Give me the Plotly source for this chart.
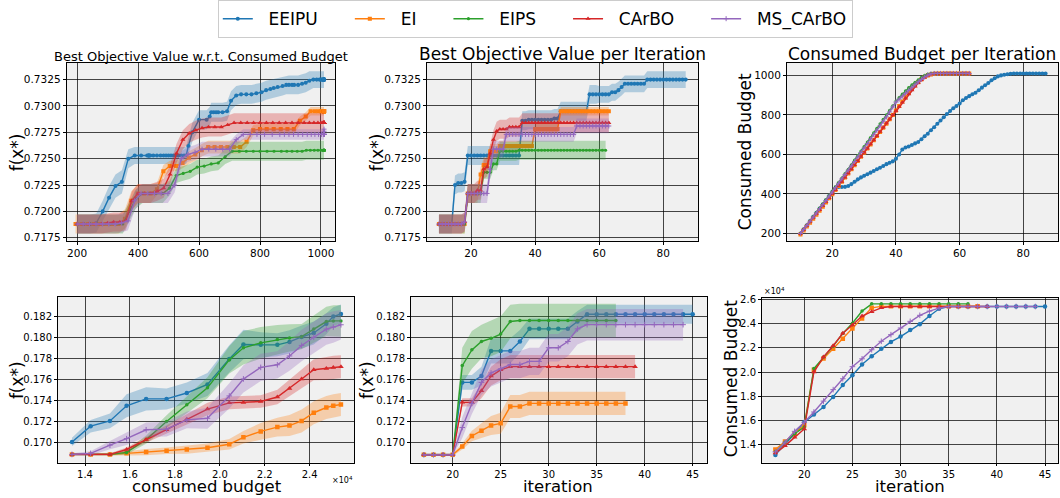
import plotly.graph_objects as go

# ---------------- DATA ----------------
methods = ["EEIPU", "EI", "EIPS", "CArBO", "MS_CArBO"]

# ---- top row: iterations ----
it_top_eeipu = list(range(10, 88))
it_top_ei = list(range(10, 64))
it_top_eips = list(range(10, 63))
it_top_carbo = list(range(10, 64))
it_top_ms = list(range(10, 64))

# consumed budget per iteration (top-right panel; also x of top-left panel)
bud_eeipu = [200, 221, 242, 263, 284, 305, 326, 347, 368, 389,
             410, 430, 435, 435, 436, 440, 450, 462, 474, 484,
             492, 500, 508, 516, 525, 533, 542, 551, 558, 565,
             578, 600, 625, 635, 640, 648, 656, 663, 677, 692,
             705, 722, 738, 755, 772, 788, 805, 820, 834, 845,
             858, 874, 886, 895, 905, 912, 925, 938, 950, 962,
             975, 986, 995, 1000, 1003, 1006, 1008, 1010, 1010, 1010,
             1010, 1010, 1010, 1010, 1010, 1010, 1010, 1010]
bud_ei = [195, 215, 235, 255, 275, 295, 315, 336, 357, 378,
          399, 420, 441, 462, 483, 504, 525, 546, 567, 588,
          609, 630, 651, 672, 693, 714, 735, 756, 778, 800,
          822, 845, 868, 890, 911, 931, 950, 966, 980, 992,
          1000, 1005, 1008, 1010, 1010, 1010, 1010, 1010, 1010, 1010,
          1010, 1010, 1010, 1010]
bud_eips = [200, 221, 243, 264, 286, 307, 329, 350, 372, 393,
            415, 437, 459, 481, 503, 525, 548, 571, 594, 617,
            640, 663, 686, 709, 732, 755, 778, 800, 823, 846,
            870, 888, 905, 922, 938, 952, 965, 978, 990, 1000,
            1007, 1010, 1010, 1010, 1010, 1010, 1010, 1010, 1010, 1010,
            1010, 1010, 1010]
bud_carbo = [200, 220, 240, 260, 280, 300, 320, 340, 360, 380,
             400, 421, 442, 463, 484, 505, 526, 547, 568, 589,
             610, 631, 652, 673, 694, 715, 737, 758, 779, 800,
             821, 842, 863, 884, 905, 925, 945, 962, 977, 990,
             1000, 1006, 1010, 1010, 1010, 1010, 1010, 1010, 1010, 1010,
             1010, 1010, 1010, 1010]
bud_ms = [200, 220, 241, 262, 283, 304, 325, 346, 367, 389,
          410, 432, 454, 476, 498, 520, 542, 564, 587, 610,
          632, 655, 678, 700, 722, 745, 768, 790, 815, 840,
          865, 880, 895, 910, 925, 940, 955, 968, 980, 992,
          1002, 1008, 1010, 1010, 1010, 1010, 1010, 1010, 1010, 1010,
          1010, 1010, 1010, 1010]

# best objective w.r.t. consumed budget (top-left) mean / std
fb_eeipu = [0.7188, 0.7188, 0.7188, 0.7189, 0.7200, 0.7213, 0.7224, 0.7228, 0.7250, 0.7253,
            0.7253, 0.7253, 0.7253, 0.7253, 0.7253, 0.7253, 0.7253, 0.7253, 0.7253, 0.7253,
            0.7253, 0.7253, 0.7253, 0.7253, 0.7253, 0.7253, 0.7253, 0.7253, 0.7253, 0.7262,
            0.7275, 0.7287, 0.7287, 0.7290, 0.7294, 0.7294, 0.7294, 0.7294, 0.7294, 0.7295,
            0.7305, 0.7310, 0.7311, 0.7311, 0.7311, 0.7312, 0.7313, 0.7315, 0.7316, 0.7317,
            0.7318, 0.7319, 0.7320, 0.7320, 0.7320, 0.7320, 0.7320, 0.7321, 0.7322, 0.7324,
            0.7325, 0.7325, 0.7325, 0.7325, 0.7325, 0.7325, 0.7325, 0.7325, 0.7325, 0.7325,
            0.7325, 0.7325, 0.7325, 0.7325, 0.7325, 0.7325, 0.7325, 0.7325]
sb_eeipu = [0.0009, 0.0009, 0.0009, 0.0009, 0.0010, 0.0011, 0.0011, 0.0011, 0.0009, 0.0008,
            0.0008, 0.0008, 0.0008, 0.0008, 0.0008, 0.0008, 0.0008, 0.0008, 0.0008, 0.0008,
            0.0008, 0.0008, 0.0008, 0.0008, 0.0008, 0.0008, 0.0008, 0.0008, 0.0008, 0.0008,
            0.0009, 0.0009, 0.0009, 0.0009, 0.0009, 0.0009, 0.0009, 0.0009, 0.0009, 0.0009,
            0.0009, 0.0009, 0.0009, 0.0009, 0.0009, 0.0009, 0.0009, 0.0009, 0.0009, 0.0009,
            0.0009, 0.0009, 0.0009, 0.0009, 0.0009, 0.0009, 0.0009, 0.0009, 0.0009, 0.0009,
            0.0008, 0.0008, 0.0008, 0.0008, 0.0008, 0.0008, 0.0008, 0.0008, 0.0008, 0.0008,
            0.0008, 0.0008, 0.0008, 0.0008, 0.0008, 0.0008, 0.0008, 0.0008]
fb_ei = [0.7188, 0.7188, 0.7188, 0.7188, 0.7188, 0.7188, 0.7188, 0.7188, 0.7193, 0.7210,
         0.7217, 0.7217, 0.7217, 0.7221, 0.7238, 0.7243, 0.7243, 0.7246, 0.7251, 0.7254,
         0.7258, 0.7261, 0.7261, 0.7261, 0.7261, 0.7261, 0.7261, 0.7266, 0.7277, 0.7278,
         0.7278, 0.7278, 0.7278, 0.7278, 0.7278, 0.7286, 0.7290, 0.7295, 0.7295, 0.7295,
         0.7295, 0.7295, 0.7295, 0.7295, 0.7295, 0.7295, 0.7295, 0.7295, 0.7295, 0.7295,
         0.7295, 0.7295, 0.7295, 0.7295]
sb_ei = [0.0009, 0.0009, 0.0009, 0.0009, 0.0009, 0.0009, 0.0009, 0.0009, 0.0009, 0.0009,
         0.0009, 0.0009, 0.0009, 0.0006, 0.0006, 0.0005, 0.0005, 0.0005, 0.0006, 0.0006,
         0.0006, 0.0006, 0.0006, 0.0006, 0.0006, 0.0006, 0.0006, 0.0005, 0.0005, 0.0005,
         0.0005, 0.0005, 0.0005, 0.0005, 0.0005, 0.0004, 0.0004, 0.0004, 0.0004, 0.0004,
         0.0004, 0.0004, 0.0004, 0.0004, 0.0004, 0.0004, 0.0004, 0.0004, 0.0004, 0.0004,
         0.0004, 0.0004, 0.0004, 0.0004]
fb_eips = [0.7188, 0.7188, 0.7188, 0.7188, 0.7188, 0.7188, 0.7188, 0.7188, 0.7200, 0.7212,
           0.7217, 0.7217, 0.7217, 0.7217, 0.7222, 0.7234, 0.7236, 0.7238, 0.7242, 0.7243,
           0.7245, 0.7246, 0.7252, 0.7257, 0.7257, 0.7257, 0.7257, 0.7257, 0.7257, 0.7257,
           0.7257, 0.7257, 0.7257, 0.7257, 0.7257, 0.7258, 0.7258, 0.7258, 0.7258, 0.7258,
           0.7258, 0.7258, 0.7258, 0.7258, 0.7258, 0.7258, 0.7258, 0.7258, 0.7258, 0.7258,
           0.7258, 0.7258, 0.7258]
sb_eips = [0.0009, 0.0009, 0.0009, 0.0009, 0.0009, 0.0009, 0.0009, 0.0009, 0.0009, 0.0009,
           0.0009, 0.0009, 0.0009, 0.0009, 0.0007, 0.0007, 0.0007, 0.0007, 0.0007, 0.0007,
           0.0007, 0.0007, 0.0007, 0.0009, 0.0009, 0.0009, 0.0009, 0.0009, 0.0009, 0.0009,
           0.0009, 0.0009, 0.0009, 0.0009, 0.0009, 0.0009, 0.0009, 0.0009, 0.0009, 0.0009,
           0.0009, 0.0009, 0.0009, 0.0009, 0.0009, 0.0009, 0.0009, 0.0009, 0.0009, 0.0009,
           0.0009, 0.0009, 0.0009]
fb_carbo = [0.7188, 0.7188, 0.7188, 0.7188, 0.7188, 0.7189, 0.7190, 0.7190, 0.7191, 0.7210,
            0.7217, 0.7217, 0.7217, 0.7219, 0.7222, 0.7235, 0.7255, 0.7268, 0.7274, 0.7277,
            0.7279, 0.7280, 0.7280, 0.7280, 0.7282, 0.7284, 0.7284, 0.7284, 0.7284, 0.7284,
            0.7284, 0.7284, 0.7284, 0.7284, 0.7284, 0.7284, 0.7284, 0.7284, 0.7284, 0.7284,
            0.7284, 0.7284, 0.7284, 0.7284, 0.7284, 0.7284, 0.7284, 0.7284, 0.7284, 0.7284,
            0.7284, 0.7284, 0.7284, 0.7284]
sb_carbo = [0.0009, 0.0009, 0.0009, 0.0009, 0.0009, 0.0009, 0.0009, 0.0009, 0.0009, 0.0009,
            0.0009, 0.0009, 0.0009, 0.0009, 0.0009, 0.0009, 0.0009, 0.0009, 0.0009, 0.0009,
            0.0009, 0.0009, 0.0009, 0.0009, 0.0009, 0.0009, 0.0009, 0.0009, 0.0009, 0.0009,
            0.0009, 0.0009, 0.0009, 0.0009, 0.0009, 0.0009, 0.0009, 0.0009, 0.0009, 0.0009,
            0.0009, 0.0009, 0.0009, 0.0009, 0.0009, 0.0009, 0.0009, 0.0009, 0.0009, 0.0009,
            0.0009, 0.0009, 0.0009, 0.0009]
fb_ms = [0.7188, 0.7188, 0.7188, 0.7188, 0.7188, 0.7188, 0.7188, 0.7189, 0.7191, 0.7210,
         0.7217, 0.7217, 0.7217, 0.7217, 0.7217, 0.7225, 0.7250, 0.7254, 0.7256, 0.7259,
         0.7259, 0.7259, 0.7259, 0.7259, 0.7268, 0.7273, 0.7273, 0.7273, 0.7273, 0.7273,
         0.7273, 0.7273, 0.7273, 0.7273, 0.7273, 0.7273, 0.7273, 0.7273, 0.7273, 0.7273,
         0.7273, 0.7273, 0.7273, 0.7273, 0.7273, 0.7273, 0.7273, 0.7273, 0.7273, 0.7273,
         0.7273, 0.7273, 0.7276, 0.7278]
sb_ms = [0.0009, 0.0009, 0.0009, 0.0009, 0.0009, 0.0009, 0.0009, 0.0009, 0.0009, 0.0009,
         0.0009, 0.0009, 0.0009, 0.0009, 0.0009, 0.0007, 0.0007, 0.0007, 0.0007, 0.0007,
         0.0007, 0.0007, 0.0007, 0.0007, 0.0005, 0.0005, 0.0005, 0.0005, 0.0005, 0.0005,
         0.0005, 0.0005, 0.0005, 0.0005, 0.0005, 0.0005, 0.0005, 0.0005, 0.0005, 0.0005,
         0.0005, 0.0005, 0.0005, 0.0005, 0.0005, 0.0005, 0.0005, 0.0005, 0.0005, 0.0005,
         0.0005, 0.0005, 0.0005, 0.0005]

# best objective per iteration (top-middle) mean / std
fi_eeipu = [0.7188, 0.7188, 0.7188, 0.7188, 0.7188, 0.7225, 0.7227, 0.7227, 0.7228, 0.7253,
            0.7253, 0.7253, 0.7253, 0.7253, 0.7253, 0.7253, 0.7253, 0.7253, 0.7253, 0.7253,
            0.7253, 0.7253, 0.7253, 0.7253, 0.7253, 0.7253, 0.7286, 0.7286, 0.7287, 0.7287,
            0.7287, 0.7287, 0.7287, 0.7287, 0.7287, 0.7287, 0.7288, 0.7288, 0.7295, 0.7295,
            0.7295, 0.7295, 0.7295, 0.7295, 0.7295, 0.7295, 0.7295, 0.7311, 0.7311, 0.7311,
            0.7311, 0.7311, 0.7311, 0.7311, 0.7313, 0.7313, 0.7315, 0.7318, 0.7321, 0.7321,
            0.7321, 0.7321, 0.7321, 0.7321, 0.7321, 0.7325, 0.7325, 0.7325, 0.7325, 0.7325,
            0.7325, 0.7325, 0.7325, 0.7325, 0.7325, 0.7325, 0.7325, 0.7325]
si_eeipu = [0.0009, 0.0009, 0.0009, 0.0009, 0.0009, 0.0009, 0.0009, 0.0009, 0.0009, 0.0009,
            0.0009, 0.0009, 0.0009, 0.0009, 0.0009, 0.0009, 0.0009, 0.0009, 0.0009, 0.0009,
            0.0009, 0.0009, 0.0009, 0.0009, 0.0009, 0.0009, 0.0009, 0.0009, 0.0009, 0.0009,
            0.0009, 0.0009, 0.0009, 0.0009, 0.0009, 0.0009, 0.0009, 0.0009, 0.0009, 0.0009,
            0.0009, 0.0009, 0.0009, 0.0009, 0.0009, 0.0009, 0.0009, 0.0009, 0.0009, 0.0009,
            0.0008, 0.0008, 0.0008, 0.0008, 0.0008, 0.0008, 0.0008, 0.0008, 0.0008, 0.0008,
            0.0008, 0.0008, 0.0008, 0.0008, 0.0008, 0.0008, 0.0008, 0.0008, 0.0008, 0.0008,
            0.0008, 0.0008, 0.0008, 0.0008, 0.0008, 0.0008, 0.0008, 0.0008]
fi_ei = [0.7188, 0.7188, 0.7188, 0.7188, 0.7188, 0.7188, 0.7188, 0.7188, 0.7188, 0.7217,
         0.7217, 0.7217, 0.7217, 0.7235, 0.7244, 0.7244, 0.7257, 0.7257, 0.7257, 0.7262,
         0.7262, 0.7262, 0.7262, 0.7262, 0.7262, 0.7262, 0.7262, 0.7262, 0.7262, 0.7262,
         0.7278, 0.7278, 0.7278, 0.7278, 0.7278, 0.7278, 0.7278, 0.7278, 0.7295, 0.7295,
         0.7295, 0.7295, 0.7295, 0.7295, 0.7295, 0.7295, 0.7295, 0.7295, 0.7295, 0.7295,
         0.7295, 0.7295, 0.7295, 0.7295]
si_ei = [0.0009, 0.0009, 0.0009, 0.0009, 0.0009, 0.0009, 0.0009, 0.0009, 0.0009, 0.0009,
         0.0009, 0.0009, 0.0009, 0.0007, 0.0007, 0.0007, 0.0007, 0.0007, 0.0007, 0.0005,
         0.0005, 0.0005, 0.0005, 0.0005, 0.0005, 0.0005, 0.0005, 0.0005, 0.0005, 0.0005,
         0.0005, 0.0005, 0.0005, 0.0005, 0.0005, 0.0005, 0.0005, 0.0005, 0.0004, 0.0004,
         0.0004, 0.0004, 0.0004, 0.0004, 0.0004, 0.0004, 0.0004, 0.0004, 0.0004, 0.0004,
         0.0004, 0.0004, 0.0004, 0.0004]
fi_eips = [0.7188, 0.7188, 0.7188, 0.7188, 0.7188, 0.7188, 0.7188, 0.7188, 0.7188, 0.7217,
           0.7217, 0.7217, 0.7217, 0.7217, 0.7237, 0.7237, 0.7237, 0.7245, 0.7245, 0.7257,
           0.7257, 0.7257, 0.7257, 0.7257, 0.7257, 0.7258, 0.7258, 0.7258, 0.7258, 0.7258,
           0.7258, 0.7258, 0.7258, 0.7258, 0.7258, 0.7258, 0.7258, 0.7258, 0.7258, 0.7258,
           0.7258, 0.7258, 0.7258, 0.7258, 0.7258, 0.7258, 0.7258, 0.7258, 0.7258, 0.7258,
           0.7258, 0.7258, 0.7258]
si_eips = [0.0009, 0.0009, 0.0009, 0.0009, 0.0009, 0.0009, 0.0009, 0.0009, 0.0009, 0.0009,
           0.0009, 0.0009, 0.0009, 0.0009, 0.0006, 0.0006, 0.0006, 0.0006, 0.0006, 0.0009,
           0.0009, 0.0009, 0.0009, 0.0009, 0.0009, 0.0009, 0.0009, 0.0009, 0.0009, 0.0009,
           0.0009, 0.0009, 0.0009, 0.0009, 0.0009, 0.0009, 0.0009, 0.0009, 0.0009, 0.0009,
           0.0009, 0.0009, 0.0009, 0.0009, 0.0009, 0.0009, 0.0009, 0.0009, 0.0009, 0.0009,
           0.0009, 0.0009, 0.0009]
fi_carbo = [0.7188, 0.7188, 0.7188, 0.7188, 0.7188, 0.7188, 0.7188, 0.7188, 0.7190, 0.7217,
            0.7217, 0.7217, 0.7220, 0.7220, 0.7240, 0.7242, 0.7255, 0.7268, 0.7276, 0.7278,
            0.7278, 0.7278, 0.7280, 0.7280, 0.7280, 0.7280, 0.7284, 0.7284, 0.7284, 0.7284,
            0.7284, 0.7284, 0.7284, 0.7284, 0.7284, 0.7284, 0.7284, 0.7284, 0.7284, 0.7284,
            0.7284, 0.7284, 0.7284, 0.7284, 0.7284, 0.7284, 0.7284, 0.7284, 0.7284, 0.7284,
            0.7284, 0.7284, 0.7284, 0.7284]
si_carbo = [0.0009, 0.0009, 0.0009, 0.0009, 0.0009, 0.0009, 0.0009, 0.0009, 0.0009, 0.0009,
            0.0009, 0.0009, 0.0009, 0.0009, 0.0009, 0.0009, 0.0009, 0.0009, 0.0009, 0.0009,
            0.0009, 0.0009, 0.0009, 0.0009, 0.0009, 0.0009, 0.0009, 0.0009, 0.0009, 0.0009,
            0.0009, 0.0009, 0.0009, 0.0009, 0.0009, 0.0009, 0.0009, 0.0009, 0.0009, 0.0009,
            0.0009, 0.0009, 0.0009, 0.0009, 0.0009, 0.0009, 0.0009, 0.0009, 0.0009, 0.0009,
            0.0009, 0.0009, 0.0009, 0.0009]
fi_ms = [0.7188, 0.7188, 0.7188, 0.7188, 0.7188, 0.7188, 0.7188, 0.7188, 0.7190, 0.7217,
         0.7217, 0.7217, 0.7217, 0.7217, 0.7217, 0.7217, 0.7240, 0.7259, 0.7259, 0.7259,
         0.7259, 0.7273, 0.7273, 0.7273, 0.7273, 0.7273, 0.7273, 0.7273, 0.7273, 0.7273,
         0.7273, 0.7273, 0.7273, 0.7273, 0.7273, 0.7273, 0.7273, 0.7273, 0.7273, 0.7273,
         0.7273, 0.7273, 0.7273, 0.7281, 0.7281, 0.7281, 0.7281, 0.7281, 0.7281, 0.7281,
         0.7281, 0.7281, 0.7281, 0.7281]
si_ms = [0.0009, 0.0009, 0.0009, 0.0009, 0.0009, 0.0009, 0.0009, 0.0009, 0.0009, 0.0009,
         0.0009, 0.0009, 0.0009, 0.0009, 0.0009, 0.0009, 0.0008, 0.0008, 0.0008, 0.0008,
         0.0008, 0.0007, 0.0007, 0.0007, 0.0007, 0.0007, 0.0007, 0.0007, 0.0007, 0.0007,
         0.0007, 0.0007, 0.0007, 0.0007, 0.0007, 0.0007, 0.0007, 0.0007, 0.0007, 0.0007,
         0.0007, 0.0007, 0.0007, 0.0007, 0.0007, 0.0007, 0.0007, 0.0007, 0.0007, 0.0007,
         0.0007, 0.0007, 0.0007, 0.0007]

# ---- bottom row ----
bud_grid = [13420, 14250, 15110, 15850, 16720, 17630, 18530, 19450, 20420,
            21050, 21820, 22560, 23100, 23640, 24180, 24740, 25050, 25390]
gb_eeipu = [0.17003, 0.17153, 0.17203, 0.17347, 0.17413, 0.17413, 0.17469, 0.17550, 0.17794,
            0.17931, 0.17928, 0.17928, 0.17956, 0.18003, 0.18041, 0.18128, 0.18197, 0.18222]
gs_eeipu = [0.0004, 0.0006, 0.0007, 0.0011, 0.0011, 0.0010, 0.0010, 0.0011, 0.0013,
            0.0014, 0.0012, 0.0011, 0.0011, 0.0011, 0.0011, 0.0010, 0.0009, 0.0009]
gb_ei = [0.16884, 0.16884, 0.16884, 0.16894, 0.16906, 0.16919, 0.16931, 0.16947, 0.16981,
         0.17047, 0.17103, 0.17144, 0.17159, 0.17203, 0.17281, 0.17331, 0.17347, 0.17359]
gs_ei = [0.0001, 0.0001, 0.0001, 0.0002, 0.0003, 0.0003, 0.0004, 0.0004, 0.0005,
         0.0006, 0.0008, 0.0009, 0.0010, 0.0011, 0.0011, 0.0011, 0.0011, 0.0011]
gb_eips = [0.16884, 0.16884, 0.16884, 0.16903, 0.17025, 0.17197, 0.17356, 0.17519, 0.17784,
           0.17900, 0.17947, 0.17978, 0.17994, 0.18006, 0.18078, 0.18150, 0.18156, 0.18156]
gs_eips = [0.0001, 0.0001, 0.0001, 0.0002, 0.0004, 0.0006, 0.0008, 0.0010, 0.0013,
           0.0016, 0.0015, 0.0014, 0.0013, 0.0012, 0.0013, 0.0014, 0.0015, 0.0015]
gb_carbo = [0.16884, 0.16884, 0.16884, 0.16931, 0.17025, 0.17119, 0.17219, 0.17316, 0.17375,
            0.17378, 0.17388, 0.17431, 0.17513, 0.17603, 0.17691, 0.17703, 0.17713, 0.17719]
gs_carbo = [0.0001, 0.0001, 0.0001, 0.0002, 0.0003, 0.0004, 0.0005, 0.0006, 0.0006,
            0.0006, 0.0006, 0.0007, 0.0008, 0.0009, 0.0010, 0.0011, 0.0011, 0.0011]
gb_ms = [0.16884, 0.16894, 0.16972, 0.17034, 0.17119, 0.17125, 0.17213, 0.17228, 0.17441,
         0.17603, 0.17713, 0.17738, 0.17822, 0.17922, 0.18000, 0.18078, 0.18097, 0.18119]
gs_ms = [0.0001, 0.0002, 0.0004, 0.0006, 0.0007, 0.0007, 0.0008, 0.0010, 0.0012,
         0.0013, 0.0013, 0.0013, 0.0014, 0.0015, 0.0015, 0.0015, 0.0015, 0.0014]

it_bot_eeipu = list(range(17, 46))
it_bot_ei = list(range(17, 39))
it_bot_eips = list(range(17, 38))
it_bot_carbo = list(range(17, 40))
it_bot_ms = list(range(17, 45))

hi_eeipu = [0.1688, 0.1688, 0.1688, 0.1688, 0.1757, 0.1757, 0.1763, 0.1787, 0.1787, 0.1787,
            0.1796, 0.1808, 0.1808, 0.1808, 0.1808, 0.1808, 0.1815, 0.1822, 0.1822, 0.1822,
            0.1822, 0.1822, 0.1822, 0.1822, 0.1822, 0.1822, 0.1822, 0.1822, 0.1822]
hs_eeipu = [0.0001, 0.0001, 0.0001, 0.0001, 0.0007, 0.0007, 0.0009, 0.0012, 0.0012, 0.0012,
            0.0011, 0.0010, 0.0010, 0.0010, 0.0010, 0.0010, 0.0010, 0.0009, 0.0009, 0.0009,
            0.0009, 0.0009, 0.0009, 0.0009, 0.0009, 0.0009, 0.0009, 0.0009, 0.0009]
hi_ei = [0.1688, 0.1688, 0.1688, 0.1688, 0.1696, 0.1706, 0.1711, 0.1716, 0.1718, 0.1734,
         0.1734, 0.1737, 0.1737, 0.1737, 0.1737, 0.1737, 0.1737, 0.1737, 0.1737, 0.1737,
         0.1737, 0.1737]
hs_ei = [0.0001, 0.0001, 0.0001, 0.0001, 0.0003, 0.0005, 0.0007, 0.0009, 0.0010, 0.0011,
         0.0011, 0.0011, 0.0011, 0.0011, 0.0011, 0.0011, 0.0011, 0.0011, 0.0011, 0.0011,
         0.0011, 0.0011]
hi_eips = [0.1688, 0.1688, 0.1688, 0.1688, 0.1773, 0.1788, 0.1796, 0.1799, 0.1803, 0.1815,
           0.1816, 0.1816, 0.1816, 0.1816, 0.1816, 0.1816, 0.1816, 0.1816, 0.1816, 0.1816,
           0.1816]
hs_eips = [0.0001, 0.0001, 0.0001, 0.0001, 0.0017, 0.0018, 0.0016, 0.0017, 0.0017, 0.0016,
           0.0016, 0.0016, 0.0016, 0.0016, 0.0016, 0.0016, 0.0016, 0.0016, 0.0016, 0.0016,
           0.0016]
hi_carbo = [0.1688, 0.1688, 0.1688, 0.1688, 0.1738, 0.1738, 0.1749, 0.1763, 0.1769, 0.1772,
            0.1772, 0.1772, 0.1772, 0.1772, 0.1772, 0.1772, 0.1772, 0.1772, 0.1772, 0.1772,
            0.1772, 0.1772, 0.1772]
hs_carbo = [0.0001, 0.0001, 0.0001, 0.0001, 0.0004, 0.0004, 0.0007, 0.0009, 0.0010, 0.0011,
            0.0011, 0.0011, 0.0011, 0.0011, 0.0011, 0.0011, 0.0011, 0.0011, 0.0011, 0.0011,
            0.0011, 0.0011, 0.0011]
hi_ms = [0.1688, 0.1688, 0.1688, 0.1688, 0.1714, 0.1737, 0.1757, 0.1766, 0.1770, 0.1774,
         0.1774, 0.1777, 0.1777, 0.1790, 0.1790, 0.1796, 0.1808, 0.1812, 0.1812, 0.1812,
         0.1812, 0.1812, 0.1812, 0.1812, 0.1812, 0.1812, 0.1812, 0.1812]
hs_ms = [0.0001, 0.0001, 0.0001, 0.0001, 0.0010, 0.0010, 0.0012, 0.0013, 0.0013, 0.0013,
         0.0013, 0.0013, 0.0013, 0.0013, 0.0013, 0.0014, 0.0015, 0.0015, 0.0015, 0.0015,
         0.0015, 0.0015, 0.0015, 0.0015, 0.0015, 0.0015, 0.0015, 0.0015]

cb_eeipu = [13150, 14000, 14900, 15850, 16490, 17110, 17950, 18930, 19740, 20630,
            21310, 21930, 22500, 22940, 23480, 23970, 24640, 25240, 25430, 25430,
            25430, 25430, 25430, 25430, 25430, 25430, 25430, 25430, 25430]
cb_ei = [13600, 14250, 14900, 15600, 20200, 21120, 21930, 22770, 23610, 24430,
         25320, 25440, 25460, 25460, 25460, 25460, 25460, 25460, 25460, 25460,
         25460, 25460]
cb_eips = [13400, 14200, 14900, 15450, 20300, 21250, 22150, 23200, 24050, 25050,
           25650, 25650, 25650, 25650, 25650, 25650, 25650, 25650, 25650, 25650,
           25650]
cb_carbo = [13300, 13900, 14600, 15300, 20000, 21260, 22180, 23210, 23890, 24640,
            25000, 25320, 25430, 25430, 25430, 25430, 25430, 25430, 25430, 25430,
            25430, 25430, 25430]
cb_ms = [13400, 14200, 15100, 15850, 16700, 17600, 18550, 19450, 20450, 21100,
         21850, 22550, 23100, 23650, 24200, 24700, 25050, 25300, 25430, 25430,
         25430, 25430, 25430, 25430, 25430, 25430, 25430, 25430]

top_lr_ticks = [200, 400, 600, 800, 1000]
top_y_ticks = [0.7175, 0.7200, 0.7225, 0.7250, 0.7275, 0.7300, 0.7325]
top_it_ticks = [20, 40, 60, 80]
top_cb_ticks = [200, 400, 600, 800, 1000]
bot_cb_ticks = [14000, 16000, 18000, 20000, 22000, 24000]
bot_cb_text = ["1.4", "1.6", "1.8", "2.0", "2.2", "2.4"]
bot_y_ticks = [0.170, 0.172, 0.174, 0.176, 0.178, 0.180, 0.182]
bot_it_ticks = [20, 25, 30, 35, 40, 45]
bot_cb2_ticks = [14000, 16000, 18000, 20000, 22000, 24000, 26000]
bot_cb2_text = ["1.4", "1.6", "1.8", "2.0", "2.2", "2.4", "2.6"]

# ---------------- STYLE ----------------
W, H = 1060, 498
FONT = "DejaVu Sans"
colors = {"EEIPU": (31, 119, 180), "EI": (255, 127, 14), "EIPS": (44, 160, 44),
          "CArBO": (214, 39, 40), "MS_CArBO": (148, 103, 189)}
symbols = {"EEIPU": "circle", "EI": "square", "EIPS": "circle", "CArBO": "triangle-up",
           "MS_CArBO": "cross-thin"}
msize = {"EEIPU": 4.5, "EI": 4.5, "EIPS": 3.5, "CArBO": 5, "MS_CArBO": 4}
NB = "\u00a0"
legend_names = {"EEIPU": NB * 2 + "EEIPU" + NB * 5, "EI": NB * 2 + "EI" + NB * 5,
                "EIPS": NB * 2 + "EIPS" + NB * 5, "CArBO": NB * 2 + "CArBO" + NB * 5,
                "MS_CArBO": NB * 2 + "MS_CArBO"}


def rgb(c, a=1.0):
    return "rgba(%d,%d,%d,%.2f)" % (c[0], c[1], c[2], a)


fig = go.Figure()


def add_band(name, x, y, s, ax):
    up = [a + b for a, b in zip(y, s)]
    lo = [a - b for a, b in zip(y, s)]
    fig.add_trace(go.Scatter(x=list(x) + list(x)[::-1], y=up + lo[::-1], fill="toself",
                             fillcolor=rgb(colors[name], 0.3), line=dict(width=0),
                             mode="lines", hoverinfo="skip", showlegend=False,
                             xaxis="x" + ax, yaxis="y" + ax))


def add_line(name, x, y, ax, size_scale=1.0, legend=False):
    c = colors[name]
    m = dict(symbol=symbols[name], size=msize[name] * size_scale, color=rgb(c))
    if name == "MS_CArBO":
        m["line"] = dict(color=rgb(c), width=1)
    fig.add_trace(go.Scatter(x=x, y=y, mode="lines+markers", name=legend_names[name],
                             line=dict(color=rgb(c), width=1.4), marker=m,
                             showlegend=legend, legendgroup=name,
                             xaxis="x" + ax, yaxis="y" + ax))


top = {
    "EEIPU": (it_top_eeipu, bud_eeipu, fb_eeipu, sb_eeipu, fi_eeipu, si_eeipu),
    "EI": (it_top_ei, bud_ei, fb_ei, sb_ei, fi_ei, si_ei),
    "EIPS": (it_top_eips, bud_eips, fb_eips, sb_eips, fi_eips, si_eips),
    "CArBO": (it_top_carbo, bud_carbo, fb_carbo, sb_carbo, fi_carbo, si_carbo),
    "MS_CArBO": (it_top_ms, bud_ms, fb_ms, sb_ms, fi_ms, si_ms),
}
bot = {
    "EEIPU": (gb_eeipu, gs_eeipu, it_bot_eeipu, hi_eeipu, hs_eeipu, cb_eeipu),
    "EI": (gb_ei, gs_ei, it_bot_ei, hi_ei, hs_ei, cb_ei),
    "EIPS": (gb_eips, gs_eips, it_bot_eips, hi_eips, hs_eips, cb_eips),
    "CArBO": (gb_carbo, gs_carbo, it_bot_carbo, hi_carbo, hs_carbo, cb_carbo),
    "MS_CArBO": (gb_ms, gs_ms, it_bot_ms, hi_ms, hs_ms, cb_ms),
}

for n in methods:
    it, bud, fb, sb, fi, si = top[n]
    add_band(n, bud, fb, sb, "")
    add_line(n, bud, fb, "", 0.9, legend=True)
    add_band(n, it, fi, si, "2")
    add_line(n, it, fi, "2", 0.9)
    add_line(n, it, bud, "3", 0.9)
    gb, gs, itb, hi, hs, cb = bot[n]
    add_band(n, bud_grid, gb, gs, "4")
    add_line(n, bud_grid, gb, "4")
    add_band(n, itb, hi, hs, "5")
    add_line(n, itb, hi, "5")
    add_line(n, itb, cb, "6")


def dx(l, r):
    return [l / W, r / W]


def dy(t, b):
    return [1 - b / H, 1 - t / H]


def axis(domain, rng, tickvals, anchor, ticktext=None, fmt=None, fs=10.5, tl=3):
    d = dict(domain=domain, range=rng, tickvals=tickvals, anchor=anchor,
             showgrid=True, gridcolor="rgba(0,0,0,0.72)", gridwidth=1.2,
             showline=True, linecolor="black", linewidth=1, mirror=True,
             ticks="outside", ticklen=tl, tickcolor="black", zeroline=False,
             tickfont=dict(size=fs, color="black", family=FONT))
    if ticktext is not None:
        d["ticktext"] = ticktext
    if fmt is not None:
        d["tickformat"] = fmt
    return d


fig.update_layout(
    xaxis=axis(dx(66.7, 335), [166, 1046], top_lr_ticks, "y"),
    yaxis=axis(dy(58, 239), [0.71722, 0.73408], top_y_ticks, "x", fmt=".4f"),
    xaxis2=axis(dx(427, 698), [6.27, 90.83], top_it_ticks, "y2"),
    yaxis2=axis(dy(58, 239), [0.71722, 0.73408], top_y_ticks, "x2", fmt=".4f"),
    xaxis3=axis(dx(787, 1058), [5.77, 90.9], top_it_ticks, "y3"),
    yaxis3=axis(dy(58, 239), [163.7, 1063], top_cb_ticks, "x3"),
    xaxis4=axis(dx(58, 354), [12798, 25971], bot_cb_ticks, "y4", ticktext=bot_cb_text, fs=10, tl=2),
    yaxis4=axis(dy(296, 465), [0.16806, 0.18387], bot_y_ticks, "x4", fmt=".3f", fs=10),
    xaxis5=axis(dx(411, 707), [15.66, 46.49], bot_it_ticks, "y5", fs=10, tl=2),
    yaxis5=axis(dy(296, 465), [0.16806, 0.18387], bot_y_ticks, "x5", fmt=".3f", fs=10),
    xaxis6=axis(dx(762, 1058), [15.61, 46.35], bot_it_ticks, "y6", fs=10, tl=2),
    yaxis6=axis(dy(297, 465), [12513, 26163], bot_cb2_ticks, "x6", ticktext=bot_cb2_text, fs=10),
    width=W, height=H,
    margin=dict(l=0, r=0, t=0, b=0),
    paper_bgcolor="white", plot_bgcolor="#f0f0f0",
    font=dict(family=FONT, color="black"),
    legend=dict(orientation="h", x=0.505, xanchor="center", y=1.012, yanchor="top",
                bgcolor="white", bordercolor="#cccccc", borderwidth=1,
                font=dict(size=17, family=FONT)),
)


def ann(text, xpx, ypx, size, angle=0, xanchor="center", yanchor="middle"):
    fig.add_annotation(text=text, x=xpx / W, y=1 - ypx / H, xref="paper", yref="paper",
                       showarrow=False, font=dict(size=size, family=FONT, color="black"),
                       textangle=angle, xanchor=xanchor, yanchor=yanchor)


ann("Best Objective Value w.r.t. Consumed Budget", 201, 51, 13)
ann("Best Objective Value per Iteration", 562, 49, 17)
ann("Consumed Budget per Iteration", 922, 49, 17)
ann("f(x*)", 17, 149, 17, -90)
ann("f(x*)", 377, 149, 17, -90)
ann("Consumed Budget", 745, 149, 17, -90)
ann("f(x*)", 17, 381, 17, -90)
ann("f(x*)", 367, 381, 17, -90)
ann("Consumed Budget", 731, 380, 17, -90)
ann("consumed budget", 207, 489.5, 16.5)
ann("iteration", 558, 489.5, 16.5)
ann("iteration", 910, 489.5, 16.5)
ann("×10<sup>4</sup>", 355, 483, 8, xanchor="right")
ann("×10<sup>4</sup>", 762, 290, 8, xanchor="left")

fig.write_html("out.html", config={"displayModeBar": False},
               post_script="document.body.style.margin='0';document.body.style.padding='0';"
                           "document.body.style.overflow='hidden';")
